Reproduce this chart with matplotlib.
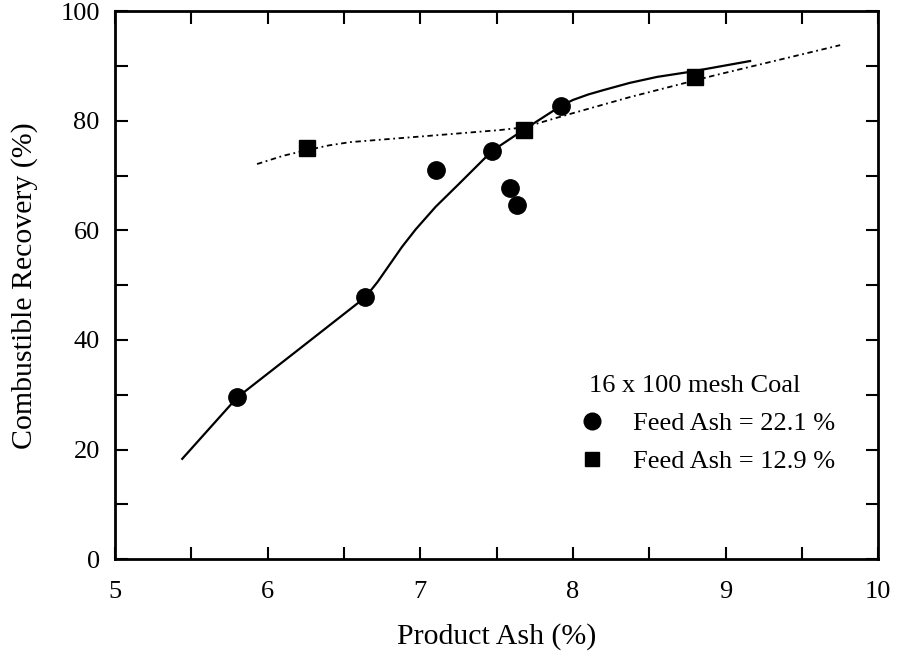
import matplotlib
matplotlib.use("Agg")
import matplotlib.pyplot as plt
from matplotlib.ticker import MultipleLocator
from matplotlib.lines import Line2D

plt.rcParams['font.family'] = ['Liberation Serif', 'DejaVu Serif']

# measured points
ash_221 = [5.80, 6.64, 7.10, 7.47, 7.59, 7.63, 7.92]
rec_221 = [29.5, 47.8, 71.0, 74.5, 67.8, 64.6, 82.7]
ash_129 = [6.26, 7.68, 8.80]
rec_129 = [75.0, 78.3, 88.0]

# hand-drawn trend lines
fit_221_x = [5.44, 5.80, 6.20, 6.64, 6.72, 6.80, 6.88, 6.97, 7.10, 7.25, 7.47, 7.68, 7.92,
             8.00, 8.10, 8.20, 8.37, 8.55, 8.76, 9.16]
fit_221_y = [18.3, 29.5, 38.2, 47.8, 50.6, 53.8, 57.0, 60.2, 64.3, 68.4, 74.5, 78.4, 82.7,
             83.8, 84.8, 85.6, 86.9, 88.0, 88.9, 90.9]
fit_129_x = [5.93, 6.10, 6.25, 6.40, 6.54, 7.08, 7.52, 7.68, 7.95, 8.37, 8.93, 9.75]
fit_129_y = [72.1, 73.6, 74.6, 75.5, 76.1, 77.3, 78.3, 78.8, 81.0, 84.3, 88.3, 93.8]

fig = plt.figure(figsize=(8.99, 6.57), dpi=100)
ax = fig.add_axes([0.128, 0.149, 0.849, 0.834])

ax.plot(fit_221_x, fit_221_y, color='black', lw=1.6)
ax.plot(fit_129_x, fit_129_y, color='black', lw=1.3, linestyle=(0, (3, 2, 1, 2)))
ax.plot(ash_221, rec_221, 'o', color='black', ms=12.5, zorder=3)
ax.plot(ash_129, rec_129, 's', color='black', ms=11, zorder=3)

ax.set_xlim(5, 10)
ax.set_ylim(0, 100)
ax.xaxis.set_major_locator(MultipleLocator(1))
ax.xaxis.set_minor_locator(MultipleLocator(0.5))
ax.yaxis.set_major_locator(MultipleLocator(20))
ax.yaxis.set_minor_locator(MultipleLocator(10))
ax.tick_params(which='both', direction='in', top=True, right=True, width=1.5,
               length=9, labelsize=19)
ax.tick_params(axis='x', which='both', pad=16)
ax.tick_params(axis='y', which='both', pad=11)
for s in ax.spines.values():
    s.set_linewidth(2)

ax.set_xlabel('Product Ash (%)', fontsize=21.5, labelpad=14)
ax.set_ylabel('Combustible Recovery (%)', fontsize=21.5, labelpad=16)

handles = [Line2D([], [], marker='o', color='black', ls='none', ms=12),
           Line2D([], [], marker='s', color='black', ls='none', ms=10)]
leg = ax.legend(handles, ['Feed Ash = 22.1 %', 'Feed Ash = 12.9 %'],
                title='16 x 100 mesh Coal', title_fontsize=19, fontsize=19,
                frameon=False, loc='upper left', bbox_to_anchor=(0.603, 0.36),
                handletextpad=1.4, alignment='left', labelspacing=0.55,
                borderpad=0, handlelength=0.3)

fig.savefig('out.png', dpi=100)
